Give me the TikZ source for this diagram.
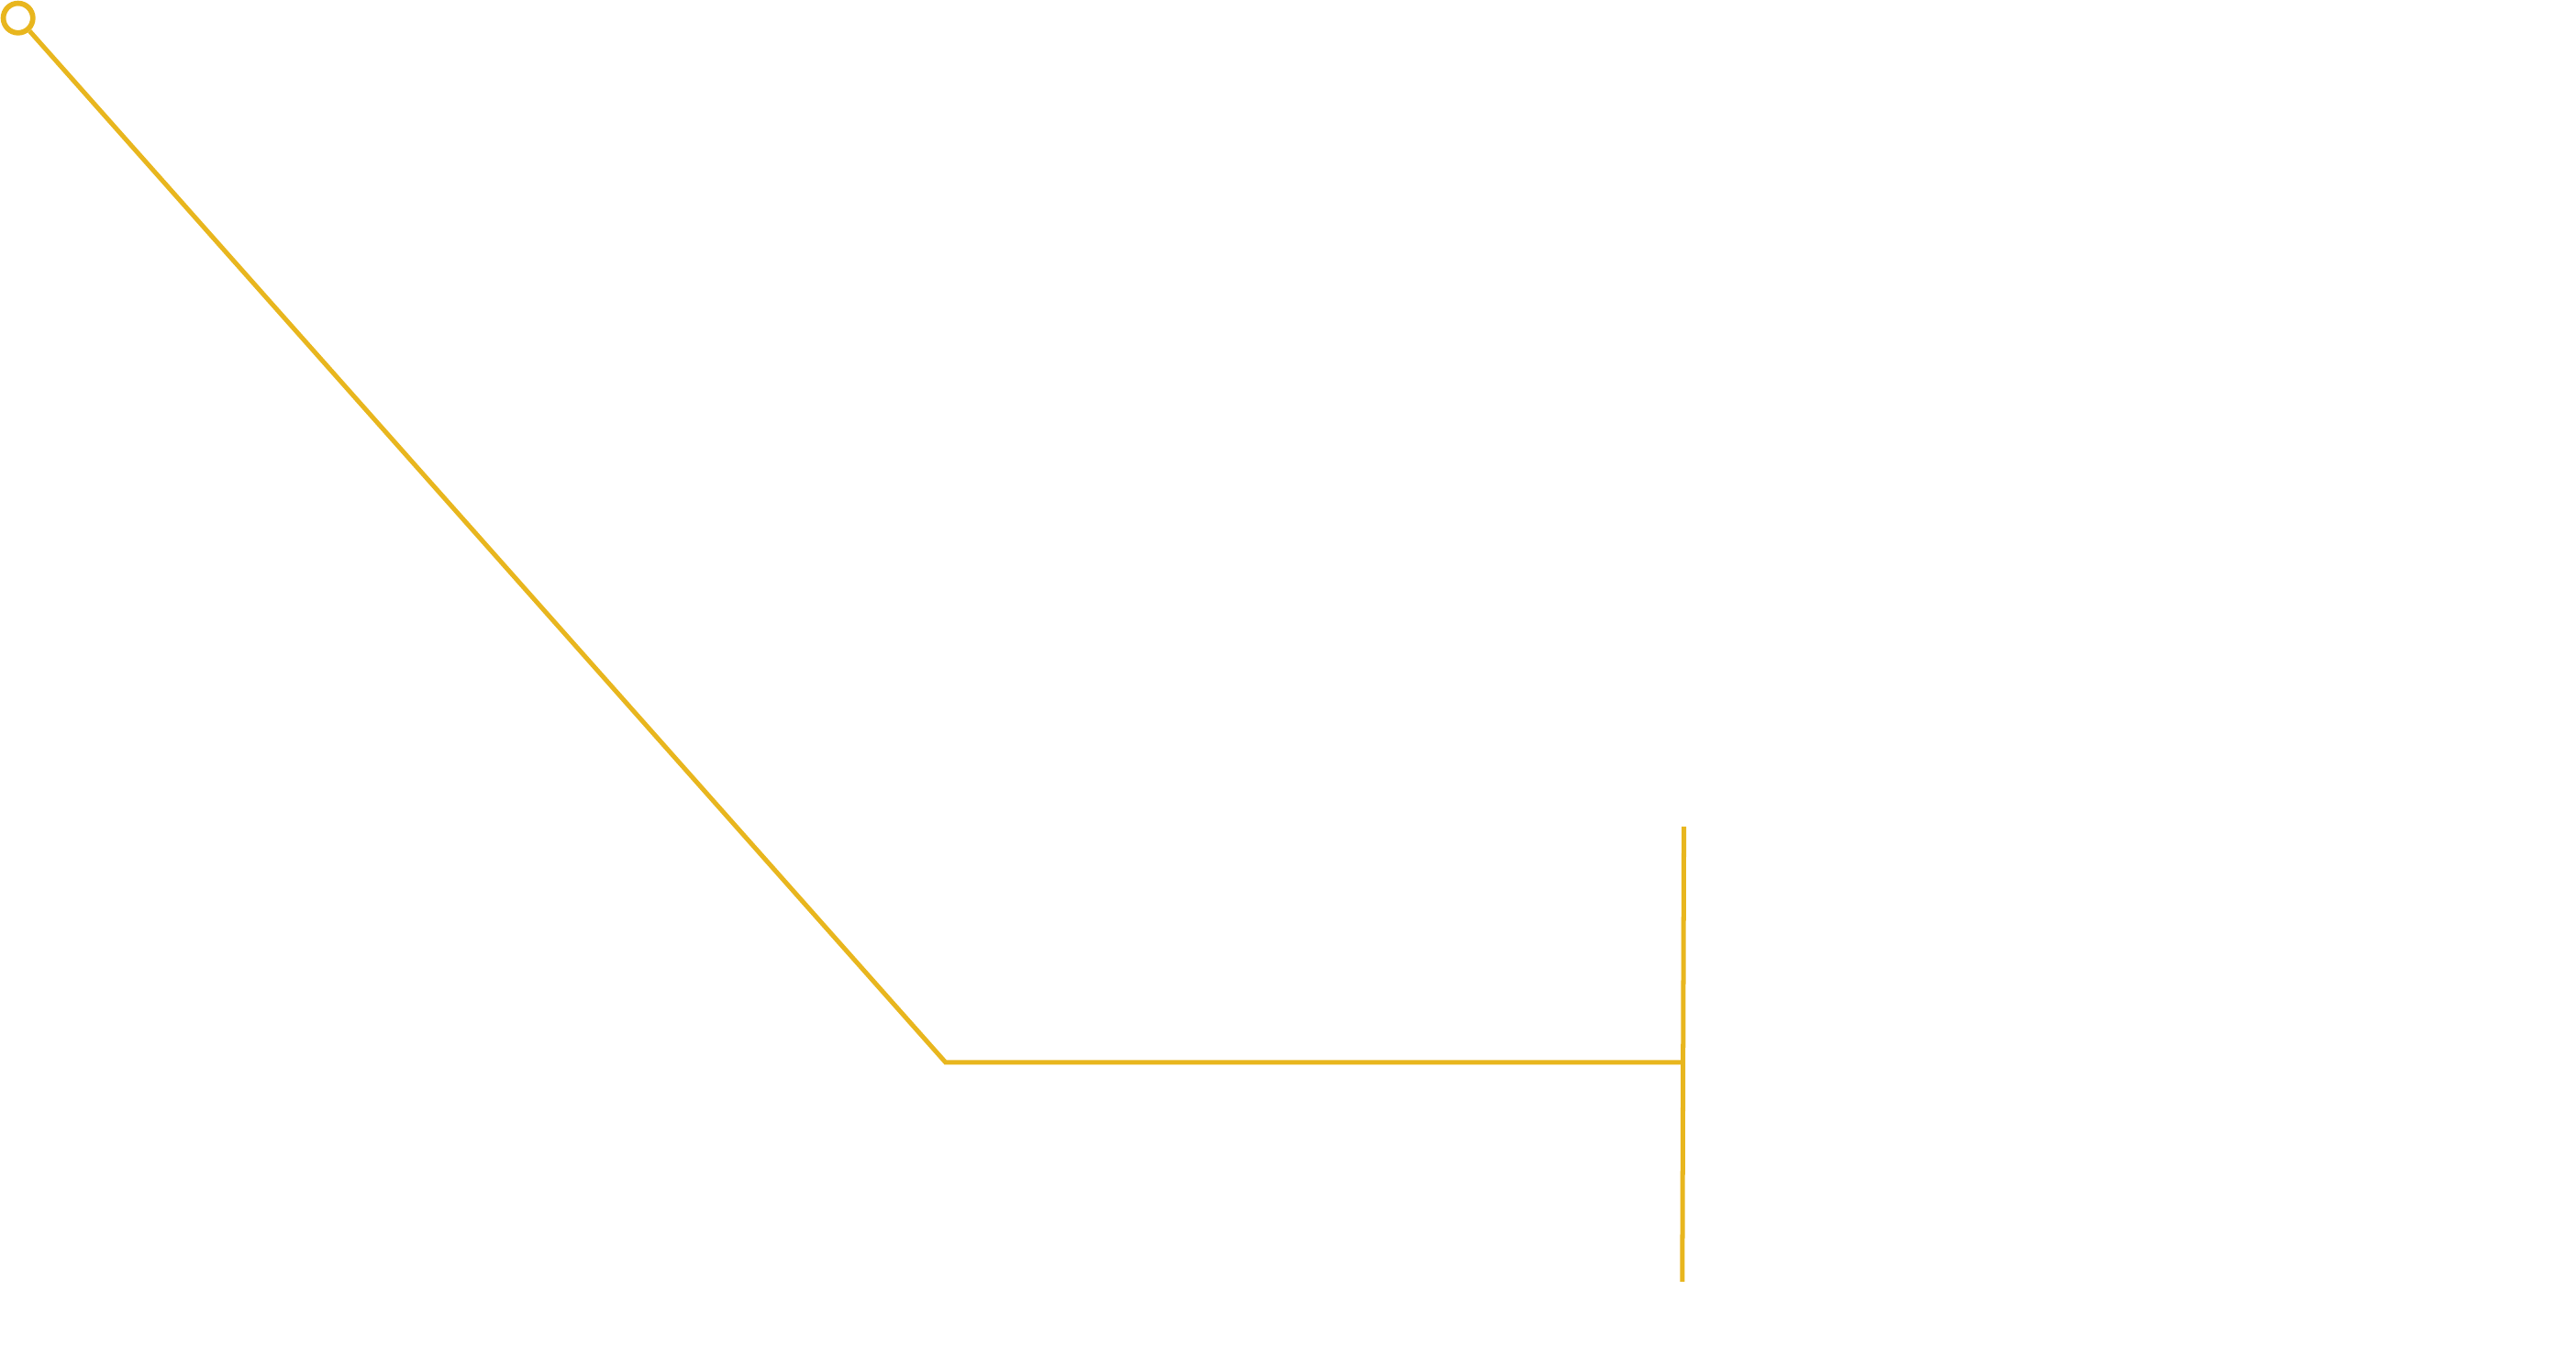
\documentclass[tikz,border=0pt]{standalone}
\usepackage{tikz}
\definecolor{gold}{RGB}{232,182,30}
\begin{document}
\begin{tikzpicture}[x=1pt,y=1pt,yscale=-1,xscale=1]
\tikzset{wire/.style={draw=gold, line width=2.8pt}}
\useasboundingbox (0,0) rectangle (1568,819);

%Shape: Circle [id:end] 
\node [circle, draw=gold, line width=3.2pt, fill=white, minimum size=18pt, inner sep=0pt] (tip) at (11,11) {};
\coordinate (knee) at (575.5,646.5);
\coordinate (join) at (1023.5,646.5);
\coordinate (top) at (1025,503);
\coordinate (bot) at (1024,780);

%Straight Lines [id:wire] 
\draw [wire] (tip) -- (knee) -- (join) ;
%Straight Lines [id:bar] 
\draw [wire] (top) -- (bot) ;
\end{tikzpicture}
\end{document}
